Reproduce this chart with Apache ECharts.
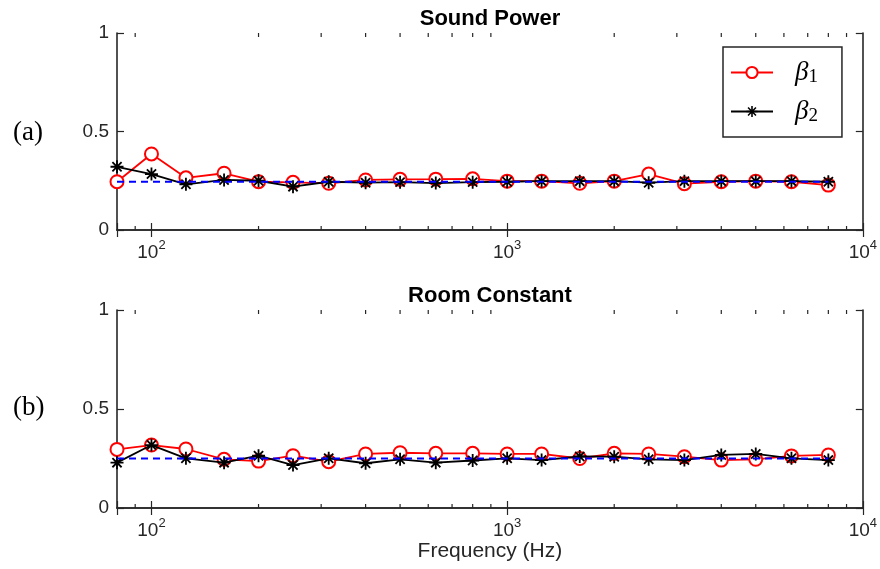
<!DOCTYPE html>
<html><head><meta charset="utf-8">
<script src="https://cdn.jsdelivr.net/npm/echarts@6/dist/echarts.min.js"></script>
<style>html,body{margin:0;padding:0;background:#fff}#c{width:880px;height:569px}</style>
</head><body><div id="c"></div>
<script>
const freqs = [80,100,125,160,200,250,315,400,500,630,800,1000,1250,1600,2000,2500,3150,4000,5000,6300,8000];
const spBeta1 = [0.245,0.386,0.265,0.288,0.245,0.242,0.237,0.254,0.257,0.258,0.26,0.248,0.248,0.237,0.248,0.284,0.235,0.245,0.248,0.245,0.228];
const spBeta2 = [0.321,0.284,0.232,0.254,0.25,0.22,0.245,0.24,0.243,0.238,0.243,0.245,0.248,0.248,0.248,0.24,0.248,0.248,0.248,0.248,0.245];
const rcBeta1 = [0.296,0.318,0.298,0.246,0.237,0.264,0.234,0.273,0.279,0.276,0.276,0.273,0.273,0.25,0.276,0.273,0.259,0.242,0.246,0.263,0.268];
const rcBeta2 = [0.229,0.318,0.251,0.229,0.264,0.217,0.251,0.226,0.246,0.229,0.24,0.251,0.242,0.26,0.259,0.246,0.242,0.268,0.273,0.251,0.242];
const refFreqs = [80, 8000];
const spRef = [0.245, 0.245];
const rcRef = [0.25, 0.25];
const minorTickFreqs = [90,200,300,400,500,600,700,800,900,2000,3000,4000,5000,6000,7000,8000,9000];
const yTicks = [0, 0.5, 1];
const xRange = [80, 10000];
const titles = ['Sound Power', 'Room Constant'];
const panelTags = ['(a)', '(b)'];
const xLabel = 'Frequency (Hz)';
const seriesNames = ['β1', 'β2'];

const AX = '#262626';
const SANS = 'Liberation Sans, Arial, sans-serif';
const SERIF = 'Liberation Serif, Times New Roman, serif';
const STAR = 'path://M0 8.6L20 8.6L20 11.4L0 11.4Z M8.6 0L11.4 0L11.4 20L8.6 20Z M3.93 1.93L18.07 16.07L16.07 18.07L1.93 3.93Z M1.93 16.07L16.07 1.93L18.07 3.93L3.93 18.07Z';

const grids = [
  {left: 117, right: 17, top: 33, height: 197},
  {left: 117, right: 17, top: 310, height: 198}
];

function pow10Label(v) {
  const e = Math.log10(v);
  if (Math.abs(e - Math.round(e)) > 1e-6) return '';
  return '{b|10}{s|' + Math.round(e) + '}';
}
const xLabelRich = {
  b: {fontFamily: SANS, fontSize: 19, color: AX},
  s: {fontFamily: SANS, fontSize: 13, color: AX, padding: [0, 0, 14, 0]}
};

const xAxes = [], yAxes = [], series = [];
grids.forEach((g, gi) => {
  xAxes.push({
    type: 'log', gridIndex: gi, min: xRange[0], max: xRange[1], position: 'bottom',
    axisLine: {show: true, lineStyle: {color: AX, width: 1.6}},
    axisTick: {show: true, inside: true, length: 7, lineStyle: {color: AX, width: 1.2}},
    axisLabel: {show: true, margin: 9, formatter: pow10Label, rich: xLabelRich},
    splitLine: {show: false}, minorTick: {show: false},
    name: gi === 1 ? xLabel : '', nameLocation: 'middle', nameGap: 22,
    nameTextStyle: {fontFamily: SANS, fontSize: 21, color: AX}
  });
  xAxes.push({
    type: 'log', gridIndex: gi, min: xRange[0], max: xRange[1], position: 'top',
    axisLine: {show: true, lineStyle: {color: AX, width: 1.6}},
    axisTick: {show: true, inside: true, length: 7, lineStyle: {color: AX, width: 1.2}},
    axisLabel: {show: false}, splitLine: {show: false}
  });
  yAxes.push({
    type: 'value', gridIndex: gi, min: yTicks[0], max: yTicks[yTicks.length - 1],
    interval: yTicks[1] - yTicks[0], position: 'left',
    axisLine: {show: true, lineStyle: {color: AX, width: 1.6}},
    axisTick: {show: true, inside: true, length: 7, lineStyle: {color: AX, width: 1.2}},
    axisLabel: {show: true, margin: 8, fontFamily: SANS, fontSize: 19, color: AX},
    splitLine: {show: false}
  });
  yAxes.push({
    type: 'value', gridIndex: gi, min: yTicks[0], max: yTicks[yTicks.length - 1],
    interval: yTicks[1] - yTicks[0], position: 'right',
    axisLine: {show: true, lineStyle: {color: AX, width: 1.6}},
    axisTick: {show: true, inside: true, length: 7, lineStyle: {color: AX, width: 1.2}},
    axisLabel: {show: false}, splitLine: {show: false}
  });
});

const panels = [
  {b1: spBeta1, b2: spBeta2, ref: spRef},
  {b1: rcBeta1, b2: rcBeta2, ref: rcRef}
];
panels.forEach((p, gi) => {
  const xi = gi * 2, yi = gi * 2;
  series.push({
    type: 'custom', name: 'minor' + gi, xAxisIndex: xi, yAxisIndex: yi, silent: true, z: 1,
    data: minorTickFreqs.map(f => [f, yTicks[0]]),
    renderItem: function (params, api) {
      const x = api.value(0);
      const b = api.coord([x, yTicks[0]]);
      const t = api.coord([x, yTicks[yTicks.length - 1]]);
      const st = {stroke: AX, lineWidth: 1.2};
      return {type: 'group', children: [
        {type: 'line', shape: {x1: b[0], y1: b[1], x2: b[0], y2: b[1] - 4}, style: st},
        {type: 'line', shape: {x1: t[0], y1: t[1], x2: t[0], y2: t[1] + 4}, style: st}
      ]};
    }
  });
  series.push({
    type: 'line', name: seriesNames[0], xAxisIndex: xi, yAxisIndex: yi,
    data: freqs.map((f, i) => [f, p.b1[i]]),
    symbol: 'emptyCircle', symbolSize: 13, showAllSymbol: true,
    lineStyle: {color: '#ff0000', width: 1.8},
    itemStyle: {color: '#ff0000', borderColor: '#ff0000', borderWidth: 1.6},
    emphasis: {disabled: true}, z: 3
  });
  series.push({
    type: 'line', name: seriesNames[1], xAxisIndex: xi, yAxisIndex: yi,
    data: freqs.map((f, i) => [f, p.b2[i]]),
    symbol: STAR, symbolSize: 13, showAllSymbol: true,
    lineStyle: {color: '#000000', width: 1.8},
    itemStyle: {color: '#000000'},
    emphasis: {disabled: true}, z: 4
  });
  series.push({
    type: 'line', name: 'ref' + gi, xAxisIndex: xi, yAxisIndex: yi,
    data: refFreqs.map((f, i) => [f, p.ref[i]]),
    symbol: 'none',
    lineStyle: {color: '#0000ff', width: 1.9, type: [7, 5]},
    emphasis: {disabled: true}, z: 5
  });
});

const graphics = [];
titles.forEach((t, gi) => {
  graphics.push({
    type: 'text', x: 490, y: gi === 0 ? 19 : 296,
    style: {text: t, fontFamily: SANS, fontWeight: 'bold', fontSize: 22, fill: '#000', textAlign: 'center', textVerticalAlign: 'middle'}
  });
});
panelTags.forEach((t, gi) => {
  graphics.push({
    type: 'text', x: 13, y: gi === 0 ? 133 : 408,
    style: {text: t, fontFamily: SERIF, fontSize: 27, fill: '#000', textAlign: 'left', textVerticalAlign: 'middle'}
  });
});

const chart = echarts.init(document.getElementById('c'), null, {renderer: 'canvas'});
chart.setOption({
  animation: false,
  backgroundColor: '#fff',
  grid: grids,
  xAxis: xAxes,
  yAxis: yAxes,
  legend: {
    data: seriesNames, orient: 'vertical', left: 723, top: 47,
    itemWidth: 42, itemHeight: 14, itemGap: 11,
    padding: [12, 24, 11, 7],
    borderColor: AX, borderWidth: 1.5, backgroundColor: '#fff',
    formatter: function (n) { return '{b|' + n.slice(0, 1) + '}{s|' + n.slice(1) + '}'; },
    textStyle: {
      rich: {
        b: {fontFamily: SERIF, fontStyle: 'italic', fontSize: 27, color: '#000', padding: [0, 0, 0, 17]},
        s: {fontFamily: SERIF, fontSize: 19, color: '#000', padding: [10, 0, 0, 0]}
      }
    }
  },
  graphic: graphics,
  series: series
});
</script>
</body></html>
